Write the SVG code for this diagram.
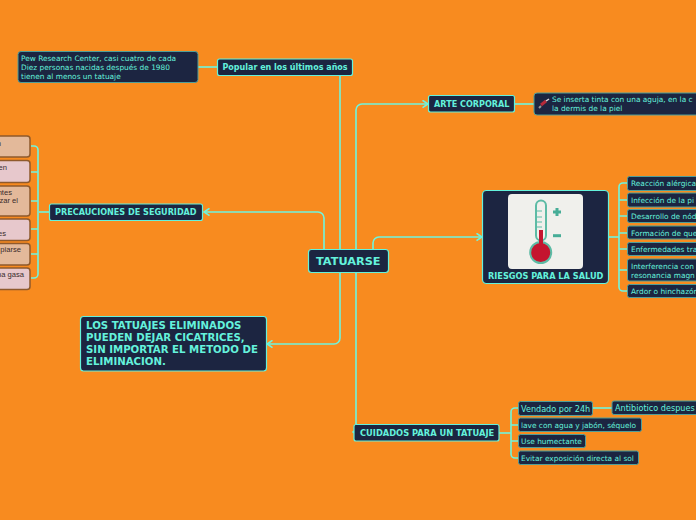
<svg xmlns="http://www.w3.org/2000/svg" width="696" height="520" viewBox="0 0 696 520">
<style>
text{font-family:"DejaVu Sans",sans-serif;fill:#64f2dc}
.b{font-weight:bold}
.n{fill:#1c2541;stroke:#64f2dc;stroke-width:1.2}
.s{fill:#1c2541;stroke:#4f9f9a;stroke-width:1}
.c{fill:none;stroke:#6ff5de;stroke-width:1.6}
.t8{font-size:7.4px}
.o1{fill:#e3b99a;stroke:#8f5a2c;stroke-width:1.5}
.o2{fill:#e7c8cc;stroke:#8f5a2c;stroke-width:1.5}
text.d{font-family:"Liberation Sans",Arial,sans-serif;font-size:7.6px;fill:#3a2c2c}
</style>
<defs><marker id="a" markerWidth="8" markerHeight="9" refX="6.5" refY="4.500" orient="auto" markerUnits="userSpaceOnUse"><path d="M1 0.800L6.500 4.500L1 8.200" fill="none" stroke="#6ff5de" stroke-width="1.600"/></marker></defs>
<rect width="696" height="520" fill="#f88b1f"/>
<g id="connectors">
<path class="c" d="M340 249V75"/>
<path class="c" d="M217 67H198"/>
<path class="c" d="M324 249V218a6 6 0 0 0-6-6H204" marker-end="url(#a)"/>
<path class="c" d="M340 273V338a6 6 0 0 1-6 6H267" marker-end="url(#a)"/>
<path class="c" d="M356 249V110a6 6 0 0 1 6-6H428" marker-end="url(#a)"/>
<path class="c" d="M373 249V243a6 6 0 0 1 6-6H482" marker-end="url(#a)"/>
<path class="c" d="M356 273V432H353" marker-end="url(#a)"/>
<path class="c" d="M515 104H534"/>
<path class="c" d="M49 212H39"/>
<path class="c" d="M31 146H34a4 4 0 0 1 4 4V274a4 4 0 0 1-4 4H31M31 172H38M31 201H38M31 229H38M31 254H38"/>
<path class="c" d="M608 237H619"/>
<path class="c" d="M627 183H623a4 4 0 0 0-4 4V287a4 4 0 0 0 4 4H627M627 200H619M627 216H619M627 233H619M627 249H619M627 270H619"/>
<path class="c" d="M499 433H511"/>
<path class="c" d="M518 408H515a4 4 0 0 0-4 4V454a4 4 0 0 0 4 4H518M518 425H511M518 441H511"/>
<path class="c" d="M593 408H612"/>
</g>
<g id="root"><rect class="n" x="308.500" y="249.500" width="80" height="23" rx="3"/><text class="b" x="316" y="265" font-size="11.300">TATUARSE</text></g>
<g id="popular"><rect class="n" x="217.500" y="59" width="135" height="16.500" rx="2"/><text class="b" x="222.500" y="70" font-size="8">Popular en los últimos años</text></g>
<g id="note-popular"><rect class="s" x="18" y="51.500" width="180" height="31" rx="3"/><text class="t8" x="21" y="61">Pew Research Center, casi cuatro de cada</text><text class="t8" x="21" y="70">Diez personas nacidas después de 1980</text><text class="t8" x="21" y="79">tienen al menos un tatuaje</text></g>
<g id="arte"><rect class="n" x="428.500" y="95.500" width="86" height="16.500" rx="2"/><text class="b" x="434" y="107" font-size="8.100">ARTE CORPORAL</text></g>
<g id="note-arte"><rect class="s" x="534" y="93" width="170" height="22" rx="3"/>
<path d="M541 105L546 101" stroke="#b52a3a" stroke-width="3" fill="none"/><path d="M546 101L549 99" stroke="#e0d8d8" stroke-width="1.500"/><path d="M539 108L541 106" stroke="#999" stroke-width="2"/>
<text class="t8" x="552" y="102">Se inserta tinta con una aguja, en la c</text><text class="t8" x="552" y="111">la dermis de la piel</text></g>
<g id="riesgos"><rect class="n" x="482.500" y="190.500" width="126" height="93" rx="4"/>
<rect x="508" y="194" width="75" height="75" rx="4" fill="#f0f0ec"/>
<rect x="536" y="200.500" width="10" height="40" rx="5" fill="#f0f0ec" stroke="#5dbba5" stroke-width="2"/>
<circle cx="540.700" cy="252.500" r="10.500" fill="#c4152f" stroke="#5dbba5" stroke-width="2"/>
<rect x="539" y="230" width="4" height="16" fill="#c4152f"/>
<path d="M536 211h6M536 217h6M536 222h6M536 227h6" stroke="#5dbba5" stroke-width="1.200"/>
<path d="M553 212h8M557 208v8" stroke="#47ad97" stroke-width="3"/><path d="M553 235.700h8" stroke="#47ad97" stroke-width="3"/>
<text class="b" x="488" y="279" font-size="8.200">RIESGOS PARA LA SALUD</text></g>
<g id="r1"><rect class="s" x="627.500" y="176.500" width="80" height="14" rx="2"/><text class="t8" x="631" y="186">Reacción alérgica</text></g>
<g id="r2"><rect class="s" x="627.500" y="193" width="80" height="14" rx="2"/><text class="t8" x="631" y="203">Infección de la pi</text></g>
<g id="r3"><rect class="s" x="627.500" y="209.500" width="80" height="13" rx="2"/><text class="t8" x="631" y="219">Desarrollo de nód</text></g>
<g id="r4"><rect class="s" x="627.500" y="226" width="80" height="13" rx="2"/><text class="t8" x="631" y="236">Formación de que</text></g>
<g id="r5"><rect class="s" x="627.500" y="242.500" width="80" height="13" rx="2"/><text class="t8" x="631" y="252">Enfermedades tra</text></g>
<g id="r6"><rect class="s" x="627.500" y="259" width="80" height="22" rx="2"/><text class="t8" x="631" y="269">Interferencia con</text><text class="t8" x="631" y="278">resonancia magn</text></g>
<g id="r7"><rect class="s" x="627.500" y="284.500" width="80" height="13" rx="2"/><text class="t8" x="631" y="294">Ardor o hinchazón</text></g>
<g id="prec"><rect class="n" x="49.500" y="204" width="153" height="16.500" rx="2"/><text class="b" x="55" y="215" font-size="8.100">PRECAUCIONES DE SEGURIDAD</text></g>
<g id="p1"><rect class="o1" x="-10" y="136" width="40" height="21" rx="3"/><text class="d" x="1" y="146" text-anchor="end">n</text></g>
<g id="p2"><rect class="o2" x="-10" y="160.500" width="40" height="22" rx="3"/><text class="d" x="7" y="170" text-anchor="end">en</text></g>
<g id="p3"><rect class="o1" x="-10" y="186" width="40" height="30" rx="3"/><text class="d" x="12" y="195" text-anchor="end">ntes</text><text class="d" x="18" y="203" text-anchor="end">zar el</text></g>
<g id="p4"><rect class="o2" x="-10" y="219" width="40" height="21.500" rx="3"/><text class="d" x="6" y="236" text-anchor="end">es</text></g>
<g id="p5"><rect class="o1" x="-10" y="243.500" width="40" height="21.500" rx="3"/><text class="d" x="21" y="252" text-anchor="end">piarse</text></g>
<g id="p6"><rect class="o2" x="-10" y="268" width="40" height="21.500" rx="3"/><text class="d" x="24" y="277" text-anchor="end">na gasa</text></g>
<g id="elim"><rect class="n" x="80.500" y="316.500" width="186" height="54.500" rx="3"/><text class="b" font-size="10.200" x="86" y="329">LOS TATUAJES ELIMINADOS</text><text class="b" font-size="10.200" x="86" y="341">PUEDEN DEJAR CICATRICES,</text><text class="b" font-size="10.200" x="86" y="353">SIN IMPORTAR EL METODO DE</text><text class="b" font-size="10.200" x="86" y="365">ELIMINACION.</text></g>
<g id="cuidados"><rect class="n" x="354" y="424.500" width="145" height="16.500" rx="2"/><text class="b" x="360" y="436" font-size="8.300">CUIDADOS PARA UN TATUAJE</text></g>
<g id="c1"><rect class="s" x="518.500" y="401.500" width="74" height="14" rx="2"/><text x="521" y="412" font-size="8.100">Vendado por 24h</text></g>
<g id="c1a"><rect class="s" x="612" y="401" width="90" height="13.500" rx="2"/><text x="615" y="411" font-size="8.100">Antibiotico despues</text></g>
<g id="c2"><rect class="s" x="518.500" y="418" width="123" height="13.500" rx="2"/><text class="t8" x="521" y="428">lave con agua y jabón, séquelo</text></g>
<g id="c3"><rect class="s" x="518.500" y="434.500" width="67" height="13" rx="2"/><text class="t8" x="521" y="444">Use humectante</text></g>
<g id="c4"><rect class="s" x="518.500" y="451" width="120" height="13.500" rx="2"/><text class="t8" x="521" y="461">Evitar exposición directa al sol</text></g>
</svg>
